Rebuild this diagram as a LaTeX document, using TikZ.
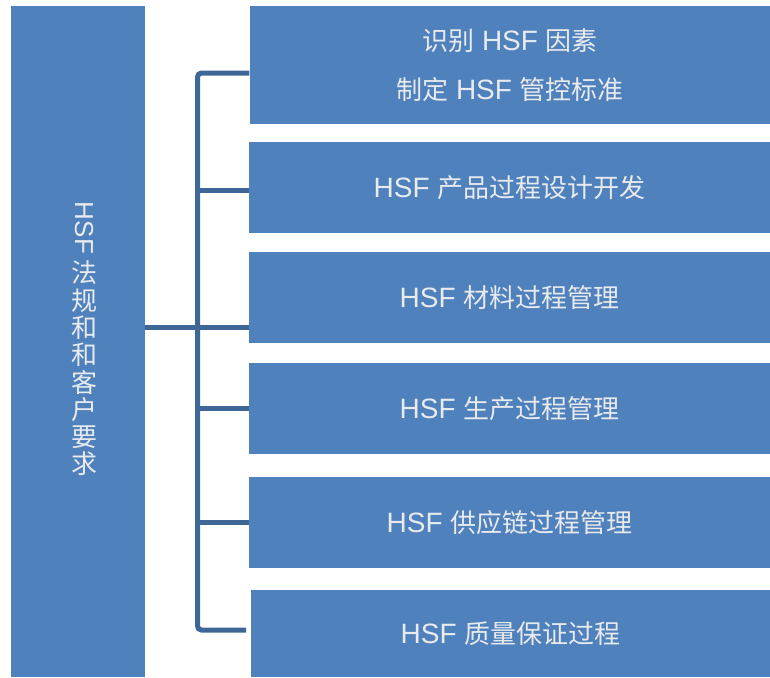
\documentclass[tikz,border=0pt]{standalone}
\usepackage{graphicx}
\usepackage{fontspec}
\setmainfont{Liberation Sans}
\newfontfamily\cjk{Noto Sans CJK SC}
\newcommand{\zh}[1]{{\cjk\fontsize{26}{26}\selectfont #1}}
\definecolor{boxblue}{HTML}{4F81BD}
\definecolor{lineblue}{HTML}{3E6696}
\definecolor{txtcol}{HTML}{E8EAEE}
\begin{document}
\begin{tikzpicture}[x=1pt,y=-1pt,
  box/.style={fill=boxblue, draw=none, inner sep=0pt, text=txtcol, align=center,
    font=\fontsize{28}{49}\selectfont, minimum width=521pt, minimum height=91pt},
  conn/.style={draw=lineblue, line width=5pt}]
\useasboundingbox (0,0) rectangle (770,677);
% left box
\node[box, minimum width=134pt, minimum height=671pt] (L) at (78,341.5) {};
\node[text=txtcol, inner sep=0pt, align=center, font=\cjk\fontsize{26}{27.3}\selectfont] (Lt) at (84,339)
  {\rotatebox{-90}{\rmfamily\fontsize{26}{26}\selectfont HSF}\\[6pt]法\\规\\和\\和\\客\\户\\要\\求};
% right boxes
\node[box, minimum height=118pt] (b1) at (510,65) {\zh{识别} HSF \zh{因素}\\\zh{制定} HSF \zh{管控标准}};
\node[box] (b2) at (509.5,187.5) {HSF \zh{产品过程设计开发}};
\node[box] (b3) at (509.5,297.5) {HSF \zh{材料过程管理}};
\node[box] (b4) at (509.5,408.5) {HSF \zh{生产过程管理}};
\node[box] (b5) at (509.5,522.5) {HSF \zh{供应链过程管理}};
\node[box, minimum height=87pt, minimum width=519pt] (b6) at (510.5,633.5) {HSF \zh{质量保证过程}};
% connectors
\coordinate (s1) at (197.5,73);
\coordinate (s2) at (197.5,190);
\coordinate (s3) at (197.5,327);
\coordinate (s4) at (197.5,408);
\coordinate (s5) at (197.5,522);
\coordinate (s6) at (197.5,630);
\coordinate (e6) at (246,630);
\draw[conn, rounded corners=4pt] (b1.west |- s1) -- (s1) -- (s6) -- (e6);
\draw[conn] (L.east |- s3) -- (b3.west |- s3);
\draw[conn] (s2) -- (b2.west |- s2);
\draw[conn] (s4) -- (b4.west |- s4);
\draw[conn] (s5) -- (b5.west |- s5);
\end{tikzpicture}
\end{document}
